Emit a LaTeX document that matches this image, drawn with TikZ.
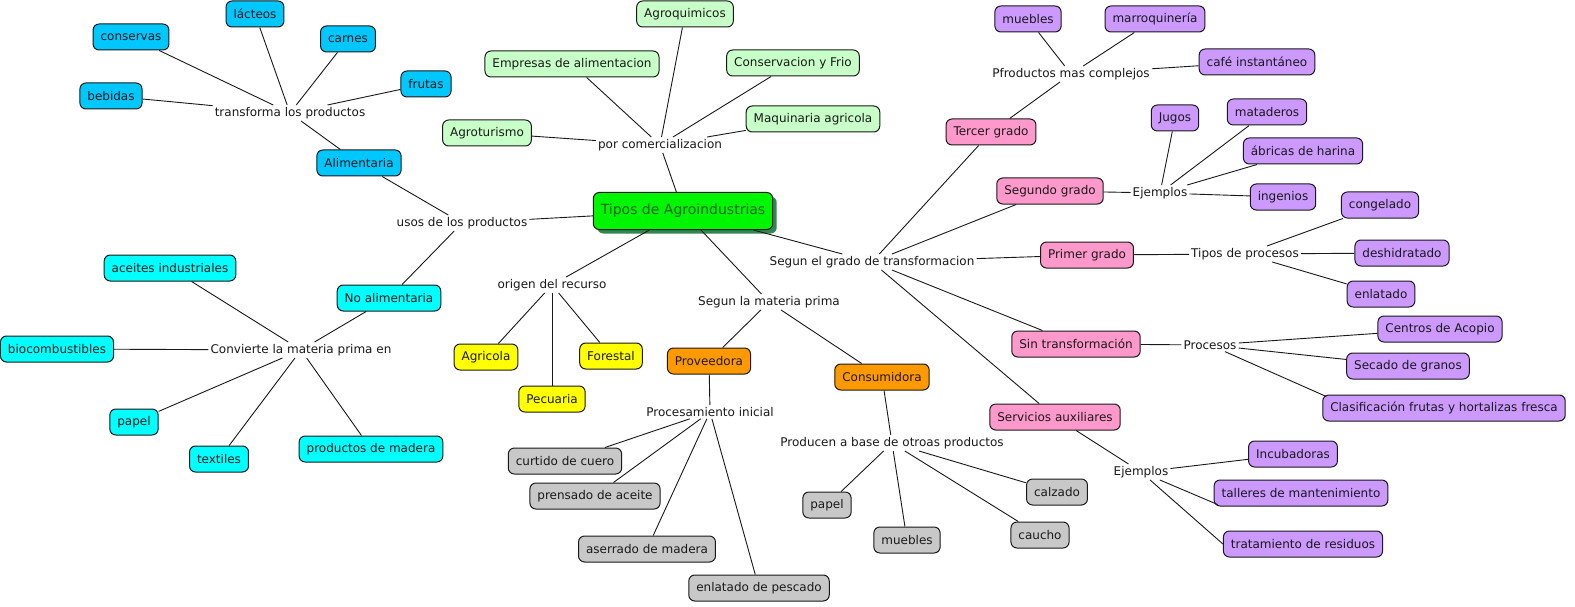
\documentclass[tikz,border=0pt]{standalone}
\usepackage{fontspec}
\setmainfont{DejaVu Sans}
\usetikzlibrary{shadows}
\definecolor{cblue}{RGB}{0,200,255}
\definecolor{cgreen}{RGB}{200,255,200}
\definecolor{ccyan}{RGB}{0,255,255}
\definecolor{cyel}{RGB}{255,255,0}
\definecolor{corange}{RGB}{255,153,0}
\definecolor{cgray}{RGB}{200,200,200}
\definecolor{cpink}{RGB}{255,153,204}
\definecolor{cpurp}{RGB}{204,153,255}
\definecolor{cmain}{RGB}{0,245,0}
\definecolor{cmaintext}{RGB}{20,100,20}
\definecolor{cshadow}{RGB}{50,135,80}
\begin{document}
\begin{tikzpicture}[x=1pt,y=-1pt,
  every node/.style={font=\fontsize{12}{14}\selectfont},
  box/.style={draw=black!90, rounded corners=6pt, line width=1pt, minimum height=26pt, inner xsep=7.5pt, inner ysep=2pt, text=black!90},
  lab/.style={inner sep=2pt, text=black!90},
  ln/.style={draw=black!90, line width=0.9pt}]
\useasboundingbox[fill=white] (0,0) rectangle (1575,607);

% central
\node[box, fill=cmain, text=cmaintext, minimum width=179pt, minimum height=37pt, font=\fontsize{14}{16}\selectfont,
  drop shadow={shadow xshift=4pt, shadow yshift=-4pt, fill=cshadow, opacity=1}] (tipos) at (683,211) {Tipos de Agroindustrias};

% top-left blue group
\node[lab] (trans) at (290,113) {transforma los productos};
\node[box, fill=cblue] (lacteos) at (255,14) {lácteos};
\node[box, fill=cblue] (conservas) at (131,37) {conservas};
\node[box, fill=cblue] (carnes) at (348,39) {carnes};
\node[box, fill=cblue] (frutas) at (426,84) {frutas};
\node[box, fill=cblue] (bebidas) at (111,96) {bebidas};
\node[box, fill=cblue] (alim) at (359,163) {Alimentaria};
\node[lab] (usos) at (462,223) {usos de los productos};

% cyan group
\node[box, fill=ccyan] (noalim) at (389,298) {No alimentaria};
\node[lab] (conv) at (301,350) {Convierte la materia prima en};
\node[box, fill=ccyan] (aceites) at (170,268) {aceites industriales};
\node[box, fill=ccyan] (bioc) at (57,349) {biocombustibles};
\node[box, fill=ccyan] (papelA) at (134,422) {papel};
\node[box, fill=ccyan] (textiles) at (219,459) {textiles};
\node[box, fill=ccyan] (prodmad) at (371,449) {productos de madera};

% green group
\node[lab] (porcom) at (660,145) {por comercializacion};
\node[box, fill=cgreen] (agroq) at (685,14) {Agroquimicos};
\node[box, fill=cgreen] (empresas) at (572,64) {Empresas de alimentacion};
\node[box, fill=cgreen] (conserv) at (793,63) {Conservacion y Frio};
\node[box, fill=cgreen] (agrotur) at (487,133) {Agroturismo};
\node[box, fill=cgreen] (maq) at (813,119) {Maquinaria agricola};

% yellow group
\node[lab] (origen) at (552,285) {origen del recurso};
\node[box, fill=cyel] (agricola) at (486,357) {Agricola};
\node[box, fill=cyel] (pecuaria) at (552,399) {Pecuaria};
\node[box, fill=cyel] (forestal) at (611,356) {Forestal};

% orange group
\node[lab] (materia) at (769,302) {Segun la materia prima};
\node[box, fill=corange] (prov) at (709,361) {Proveedora};
\node[box, fill=corange] (cons) at (882,377) {Consumidora};
\node[lab] (procini) at (710,412) {Procesamiento inicial};
\node[box, fill=cgray] (curtido) at (565,461) {curtido de cuero};
\node[box, fill=cgray] (prensado) at (595,496) {prensado de aceite};
\node[box, fill=cgray] (aserrado) at (647,549) {aserrado de madera};
\node[box, fill=cgray] (enlatadoP) at (759,588) {enlatado de pescado};
\node[lab] (producen) at (892,443) {Producen a base de otroas productos};
\node[box, fill=cgray] (papelB) at (827,505) {papel};
\node[box, fill=cgray] (mueblesB) at (907,540) {muebles};
\node[box, fill=cgray] (caucho) at (1040,535) {caucho};
\node[box, fill=cgray] (calzado) at (1057,492) {calzado};

% right group
\node[lab] (grado) at (872,262) {Segun el grado de transformacion};
\node[box, fill=cpink] (tercer) at (991,132) {Tercer grado};
\node[box, fill=cpink] (segundo) at (1050,191) {Segundo grado};
\node[box, fill=cpink] (primer) at (1087,255) {Primer grado};
\node[box, fill=cpink] (sintrans) at (1076,344) {Sin transformación};
\node[box, fill=cpink] (servicios) at (1055,417) {Servicios auxiliares};

\node[lab] (pfrod) at (1071,74) {Pfroductos mas complejos};
\node[box, fill=cpurp] (mueblesA) at (1028,19) {muebles};
\node[box, fill=cpurp] (marroq) at (1155,19) {marroquinería};
\node[box, fill=cpurp] (cafe) at (1257,62) {café instantáneo};

\node[lab] (ejemA) at (1160,193) {Ejemplos};
\node[box, fill=cpurp] (jugos) at (1175,118) {Jugos};
\node[box, fill=cpurp] (matad) at (1267,112) {mataderos};
\node[box, fill=cpurp] (fabricas) at (1303,151) {ábricas de harina};
\node[box, fill=cpurp] (ingenios) at (1283,197) {ingenios};

\node[lab] (tiposproc) at (1245,254) {Tipos de procesos};
\node[box, fill=cpurp] (congelado) at (1380,205) {congelado};
\node[box, fill=cpurp] (deshid) at (1402,253) {deshidratado};
\node[box, fill=cpurp] (enlatado) at (1381,294) {enlatado};

\node[lab] (procesos) at (1210,345) {Procesos};
\node[box, fill=cpurp] (acopio) at (1440,329) {Centros de Acopio};
\node[box, fill=cpurp] (secado) at (1408,366) {Secado de granos};
\node[box, fill=cpurp] (clasif) at (1444,408) {Clasificación frutas y hortalizas fresca};

\node[lab] (ejemB) at (1141,472) {Ejemplos};
\node[box, fill=cpurp] (incub) at (1293,454) {Incubadoras};
\node[box, fill=cpurp] (talleres) at (1301,493) {talleres de mantenimiento};
\node[box, fill=cpurp] (tratam) at (1303,544) {tratamiento de residuos};

% connectors
\draw[ln] (trans) -- (lacteos);
\draw[ln] (trans) -- (conservas);
\draw[ln] (trans) -- (carnes);
\draw[ln] (trans) -- (frutas);
\draw[ln] (trans) -- (bebidas);
\draw[ln] (alim) -- (trans);
\draw[ln] (alim) -- (usos);
\draw[ln] (usos) -- (tipos);
\draw[ln] (usos) -- (noalim);
\draw[ln] (noalim) -- (conv);
\draw[ln] (conv) -- (aceites);
\draw[ln] (conv) -- (bioc);
\draw[ln] (conv) -- (papelA);
\draw[ln] (conv) -- (textiles);
\draw[ln] (conv) -- (prodmad);

\draw[ln] (tipos) -- (porcom);
\draw[ln] (porcom) -- (agroq);
\draw[ln] (porcom) -- (empresas);
\draw[ln] (porcom) -- (conserv);
\draw[ln] (porcom) -- (agrotur);
\draw[ln] (porcom) -- (maq);

\draw[ln] (tipos) -- (origen);
\draw[ln] (origen) -- (agricola);
\draw[ln] (origen) -- (pecuaria);
\draw[ln] (origen) -- (forestal);

\draw[ln] (tipos) -- (materia);
\draw[ln] (materia) -- (prov);
\draw[ln] (materia) -- (cons);
\draw[ln] (prov) -- (procini);
\draw[ln] (procini) -- (curtido);
\draw[ln] (procini) -- (prensado);
\draw[ln] (procini) -- (aserrado);
\draw[ln] (procini) -- (enlatadoP);
\draw[ln] (cons) -- (producen);
\draw[ln] (producen) -- (papelB);
\draw[ln] (producen) -- (mueblesB);
\draw[ln] (producen) -- (caucho);
\draw[ln] (producen) -- (calzado);

\draw[ln] (tipos) -- (grado);
\draw[ln] (grado) -- (tercer);
\draw[ln] (grado) -- (segundo);
\draw[ln] (grado) -- (primer);
\draw[ln] (grado) -- (sintrans);
\draw[ln] (grado) -- (servicios);

\draw[ln] (tercer) -- (pfrod);
\draw[ln] (pfrod) -- (mueblesA);
\draw[ln] (pfrod) -- (marroq);
\draw[ln] (pfrod) -- (cafe);

\draw[ln] (segundo) -- (ejemA);
\draw[ln] (ejemA) -- (jugos);
\draw[ln] (ejemA) -- (matad);
\draw[ln] (ejemA) -- (fabricas);
\draw[ln] (ejemA) -- (ingenios);

\draw[ln] (primer) -- (tiposproc);
\draw[ln] (tiposproc) -- (congelado);
\draw[ln] (tiposproc) -- (deshid);
\draw[ln] (tiposproc) -- (enlatado);

\draw[ln] (sintrans) -- (procesos);
\draw[ln] (procesos) -- (acopio);
\draw[ln] (procesos) -- (secado);
\draw[ln] (procesos) -- ([xshift=4pt,yshift=-2pt]clasif.north west);

\draw[ln] (servicios) -- (ejemB);
\draw[ln] (ejemB) -- (incub);
\draw[ln] (ejemB) -- ([xshift=4pt,yshift=2pt]talleres.south west);
\draw[ln] (ejemB) -- (tratam.west);
\end{tikzpicture}
\end{document}
